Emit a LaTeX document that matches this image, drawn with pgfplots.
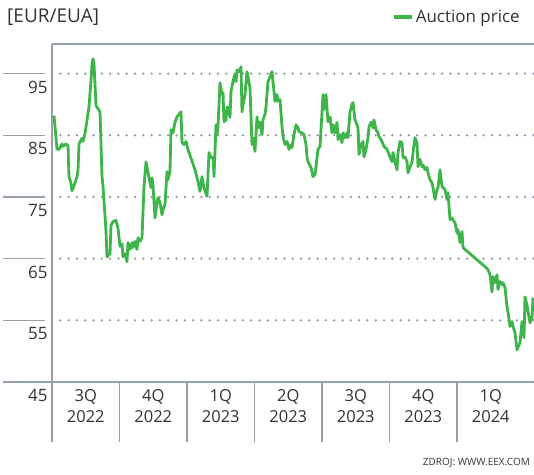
\documentclass[border=0pt]{standalone}
\usepackage{fontspec}
\setmainfont{Open Sans}
\usepackage{pgfplots}
\pgfplotsset{compat=1.18}
\definecolor{lg}{RGB}{61,181,74}
\definecolor{gridc}{RGB}{140,150,160}
\definecolor{axc}{RGB}{150,160,170}
\definecolor{txt}{RGB}{51,51,51}
\begin{document}
\begin{tikzpicture}
\path[use as bounding box] (0,0) rectangle (534pt,474pt);
\begin{axis}[
 at={(52pt,92pt)}, anchor=south west,
 scale only axis, width=482pt, height=338pt,
 xmin=0, xmax=482, ymin=45, ymax=99.8,
 clip=false,
 axis line style={draw=none},
 major tick length=0pt,
 ytick={45,55,65,75,85,95},
 yticklabels={45,55,65,75,85,95},
 yticklabel style={anchor=east, yshift=-13.5pt, xshift=-1pt, font=\fontsize{17}{20}\selectfont, text=txt},
 xtick={33.75,101.25,168.75,236.25,303.75,371.25,438.75},
 xticklabels={3Q\\2022,4Q\\2022,1Q\\2023,2Q\\2023,3Q\\2023,4Q\\2023,1Q\\2024},
 xticklabel style={align=center, anchor=north, yshift=-4pt, font=\fontsize{16.5}{21}\selectfont, text=txt},
 ymajorgrids,
 major grid style={gridc, line width=2.5pt, line cap=round, dash pattern=on 0pt off 8.3pt},
 legend style={at={(0.975,1.08)}, anchor=east, draw=none, fill=none, inner sep=0pt, font=\fontsize{17}{20}\selectfont, text=txt},
 legend image code/.code={\draw[lg, line width=4pt] (0pt,0pt) -- (18pt,0pt);},
]
\addplot[lg, line width=2.8pt, line join=round] table {
x y
2 88.2
5 82.8
7 82.7
10 83.6
11 83.2
14 83.6
16 83.3
17 78.3
19 77.2
20 76.0
22 76.8
25 78.3
26 79.3
27 83.6
30 84.5
31 84.0
33 85.3
35 87.4
37 89.6
39 93.9
40 96.6
41 97.4
42 96.6
44 89.8
46 89.3
48 88.8
50 78.3
51 76.7
52 74.4
54 69.5
55 65.3
58 65.8
59 70.4
61 71.0
64 71.2
66 69.9
68 67.0
70 67.4
71 65.3
73 65.8
75 64.5
76 67.6
78 66.5
80 67.6
81 66.8
83 67.8
85 66.5
86 68.4
88 67.8
90 68.4
92 76.7
94 80.7
96 79.0
97 78.1
99 76.5
100 78.1
101 77.0
103 71.6
105 74.1
106 74.9
108 74.1
110 72.1
111 72.9
113 73.8
115 79.1
116 77.8
118 79.1
119 85.9
121 85.4
123 87.1
125 88.0
127 88.4
129 88.8
130 83.8
132 83.5
134 84.0
136 82.7
143 79.4
146 77.5
148 75.9
150 78.3
152 76.5
155 75.1
157 82.2
159 81.4
161 81.4
162 78.3
164 86.7
165 85.1
166 86.4
168 93.5
170 91.6
171 91.9
172 87.2
174 87.5
175 89.5
176 89.6
178 87.9
179 92.1
181 93.7
182 94.4
183 94.8
184 93.7
185 95.6
187 95.3
189 96.1
190 88.8
191 90.0
193 91.6
195 95.3
196 94.5
198 92.7
200 83.5
201 84.6
203 82.4
205 88.0
206 86.2
208 87.1
210 85.1
211 87.5
213 88.4
214 89.6
216 93.7
218 94.5
220 95.3
222 92.1
223 90.5
225 91.6
226 90.5
228 90.8
230 86.4
231 84.8
233 83.5
235 84.0
237 82.7
239 83.5
240 83.0
242 85.1
244 86.7
246 86.2
247 85.6
250 85.4
252 85.1
254 83.5
255 81.4
256 80.7
259 79.8
261 78.3
263 78.6
264 79.9
266 82.7
268 83.2
270 88.7
271 91.6
272 89.2
274 91.6
276 87.2
278 88.0
280 85.4
281 86.7
283 85.4
285 87.1
286 84.3
288 85.1
290 83.8
291 85.4
293 84.6
295 85.4
296 84.6
298 88.8
300 90.0
301 90.3
303 87.5
305 86.7
306 86.2
307 81.9
309 83.5
311 84.0
312 81.5
314 82.7
316 84.6
317 86.4
319 87.1
321 86.2
322 87.5
324 85.9
326 85.4
327 84.8
330 84.0
332 83.2
335 82.7
337 81.9
340 80.7
341 82.2
343 80.7
345 79.4
346 82.2
348 84.0
350 83.8
351 81.4
353 81.5
355 80.7
356 78.9
358 79.9
360 80.6
361 82.2
363 84.6
365 83.8
366 79.9
368 81.1
370 79.9
371 80.2
373 79.4
375 79.8
376 78.9
378 77.8
380 77.3
381 76.5
383 74.6
385 76.2
386 76.5
388 79.4
390 76.7
391 76.5
393 76.2
395 74.6
396 75.7
398 71.3
400 71.6
401 71.3
403 70.8
405 69.2
406 69.7
408 67.6
410 69.4
411 66.8
413 66.5
433 63.7
436 63.2
438 62.4
440 59.6
441 62.1
443 61.1
445 62.4
446 60.0
448 61.3
450 60.8
451 61.1
453 60.3
455 57.2
456 56.4
458 54.0
460 54.8
461 54.0
463 53.0
465 50.2
466 50.6
468 51.4
470 54.8
471 53.8
472 52.2
473 58.8
475 57.5
476 56.4
478 54.6
480 55.4
481 58.7
};
\addlegendentry{Auction price}
\pgfplotsinvokeforeach{55,65,75,85,95}{
 \draw[axc, line width=1.2pt] (axis cs:-49,#1) -- (axis cs:-7,#1);
}
\draw[axc, line width=1.2pt] (axis cs:-49,45) -- (axis cs:482,45);
\draw[axc, line width=1.2pt] (axis cs:0,99.8) -- (axis cs:482,99.8);
\draw[axc, line width=1.2pt] (axis cs:0,99.8) -- (axis cs:0,35.27);
\pgfplotsinvokeforeach{67.5,135,202.5,270,337.5,405}{
 \draw[axc, line width=1.2pt] (axis cs:#1,45) -- (axis cs:#1,35.27);
}
\end{axis}
\node[anchor=west, inner sep=0pt, font=\fontsize{19}{22}\selectfont, text=txt] at (7pt,457pt) {[EUR/EUA]};
\node[anchor=east, inner sep=0pt, font=\fontsize{10}{12}\selectfont, text=txt] at (530pt,11pt) {ZDROJ: WWW.EEX.COM};
\end{tikzpicture}
\end{document}
